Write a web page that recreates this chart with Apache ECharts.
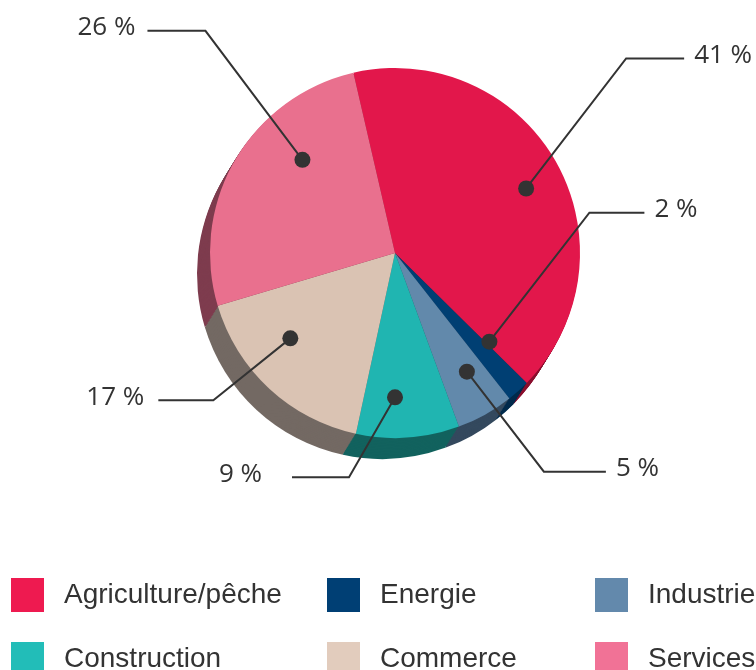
<!DOCTYPE html>
<html>
<head>
<meta charset="utf-8">
<script src="https://cdn.jsdelivr.net/npm/echarts@6/dist/echarts.min.js"></script>
<style>
  html, body { margin: 0; padding: 0; background: #fff; }
  #chart { width: 756px; height: 670px; }
</style>
</head>
<body>
<div id="chart"></div>
<script>
// data
const categories = ['Agriculture/pêche', 'Energie', 'Industrie', 'Construction', 'Commerce', 'Services'];
const shares = [41, 2, 5, 9, 17, 26];

// colours: top face, extruded side, legend swatch
const topColors = ['#E2174B', '#003F73', '#6289AB', '#20B5B1', '#DAC3B3', '#E9708E'];
const sideColors = ['#8A0E2D', '#002A4C', '#34495E', '#12625E', '#736963', '#7E3C4E'];
const legendColors = ['#EE1A50', '#003F74', '#6389AC', '#22BDB8', '#E2CCBD', '#F17296'];

// pie geometry (px)
const CX = 395, CY = 253, R = 185;
const START = 103;
const DEPTH_X = -13, DEPTH_Y = 21, LAYERS = 14;

// leader lines: angle shift from mid angle, radial fraction of the dot,
// elbow offset from the dot, horizontal run, gap before the text
const leaders = [
  { shift: -3, rf: 0.79, ex: 100, ey: -130, run: 58, gap: 10 },
  { shift: 5, rf: 0.70, ex: 100, ey: -129, run: 55, gap: 10 },
  { shift: 2, rf: 0.75, ex: 77, ey: 100, run: 62, gap: 10 },
  { shift: -4, rf: 0.78, ex: -46, ey: 80, run: -57, gap: 30 },
  { shift: -8, rf: 0.73, ex: -77, ey: 62, run: -55, gap: 14 },
  { shift: -15, rf: 0.71, ex: -97, ey: -129, run: -58, gap: 12 }
];

const total = shares.reduce((a, b) => a + b, 0);
let cum = 0;
const geo = shares.map((v, i) => {
  const mid = START - 360 * (cum + v / 2) / total + leaders[i].shift;
  cum += v;
  const a = mid * Math.PI / 180;
  const r = R * leaders[i].rf;
  const dot = [CX + r * Math.cos(a), CY - r * Math.sin(a)];
  const elbow = [dot[0] + leaders[i].ex, dot[1] + leaders[i].ey];
  const end = [elbow[0] + leaders[i].run, elbow[1]];
  const right = leaders[i].run > 0;
  return {
    dot, elbow, end,
    tx: end[0] + (right ? leaders[i].gap : -leaders[i].gap),
    ty: end[1] - 3,
    align: right ? 'left' : 'right'
  };
});

const pieData = (colors) => categories.map((name, i) => ({
  name: name,
  value: shares[i],
  itemStyle: { color: colors ? colors[i] : 'rgba(0,0,0,0)' }
}));

const basePie = (z, center, colors) => ({
  type: 'pie',
  silent: true,
  z: z,
  center: center,
  radius: R,
  startAngle: START,
  clockwise: true,
  label: { show: false },
  labelLine: { show: false },
  itemStyle: { borderWidth: 0 },
  data: pieData(colors)
});

const series = [];
// extruded side, deepest layer first
for (let k = LAYERS; k >= 1; k--) {
  series.push(basePie(1, [CX + DEPTH_X * k / LAYERS, CY + DEPTH_Y * k / LAYERS], sideColors));
}
// top face
series.push(basePie(5, [CX, CY], topColors));
// transparent copy on top that carries the labels and leader lines
const labelPie = basePie(10, [CX, CY], null);
labelPie.avoidLabelOverlap = false;
labelPie.label = {
  show: true,
  position: 'outside',
  formatter: '{c} %',
  fontFamily: 'Open Sans',
  fontSize: 26,
  color: '#333'
};
labelPie.labelLine = {
  show: true,
  smooth: false,
  lineStyle: { color: '#333', width: 2 }
};
labelPie.labelLayout = (p) => {
  const g = geo[p.dataIndex];
  return {
    x: g.tx,
    y: g.ty,
    align: g.align,
    verticalAlign: 'middle',
    labelLinePoints: [g.dot, g.elbow, g.end]
  };
};
series.push(labelPie);

const legendColumn = (names, left) => ({
  orient: 'vertical',
  left: left,
  top: 578,
  height: 200,
  padding: 0,
  itemWidth: 33,
  itemHeight: 34,
  itemGap: 30,
  icon: 'rect',
  selectedMode: false,
  textStyle: {
    fontFamily: 'Liberation Sans',
    fontSize: 28,
    color: '#333',
    padding: [0, 0, 0, 15]
  },
  data: names.map(n => ({
    name: n,
    itemStyle: { color: legendColors[categories.indexOf(n)] }
  }))
});

const chart = echarts.init(document.getElementById('chart'));
chart.setOption({
  animation: false,
  backgroundColor: '#fff',
  legend: [
    legendColumn(['Agriculture/pêche', 'Construction'], 11),
    legendColumn(['Energie', 'Commerce'], 327),
    legendColumn(['Industrie', 'Services'], 595)
  ],
  graphic: geo.map(g => ({
    type: 'circle',
    z: 100,
    silent: true,
    shape: { cx: g.dot[0], cy: g.dot[1], r: 8 },
    style: { fill: '#333' }
  })),
  series: series
});
</script>
</body>
</html>
